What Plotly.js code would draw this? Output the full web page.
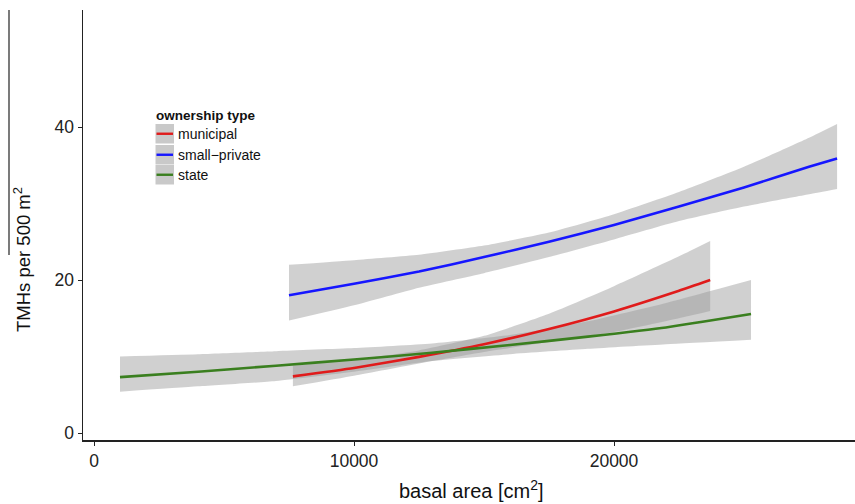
<!DOCTYPE html>
<html>
<head>
<meta charset="utf-8">
<script src="https://cdn.plot.ly/plotly-3.0.1.min.js"></script>
<style>html,body{margin:0;padding:0;background:#fff;}#chart{width:855px;height:504px;}</style>
</head>
<body>
<div id="chart"></div>
<script>
// ---- data ----
const municipalX     = [7650, 10000, 12500, 15000, 17500, 20000, 22500, 23700];
const municipalFit   = [7.4, 8.5, 9.95, 11.6, 13.6, 15.9, 18.6, 20.0];
const municipalUpper = [8.8, 9.6, 10.8, 12.7, 15.6, 19.2, 23.1, 25.1];
const municipalLower = [6.1, 7.5, 9.1, 10.6, 11.9, 13.2, 15.0, 15.95];

const privateX     = [7500, 10000, 12500, 15000, 17500, 20000, 22500, 25000, 27500, 28580];
const privateFit   = [18.0, 19.5, 21.1, 23.0, 25.0, 27.2, 29.6, 32.1, 34.8, 35.9];
const privateUpper = [22.0, 22.6, 23.3, 24.5, 26.2, 28.6, 31.5, 34.8, 38.6, 40.4];
const privateLower = [14.7, 16.7, 19.0, 20.9, 23.0, 25.3, 27.7, 29.6, 31.2, 31.9];

const stateX     = [1000, 4000, 7000, 10000, 13000, 16000, 19000, 22000, 25270];
const stateFit   = [7.3, 8.0, 8.8, 9.6, 10.5, 11.5, 12.6, 13.8, 15.55];
const stateUpper = [10.0, 10.3, 10.7, 11.1, 11.7, 12.8, 14.6, 17.0, 20.0];
const stateLower = [5.4, 6.1, 6.8, 8.0, 9.4, 10.3, 11.0, 11.6, 12.2];

const seriesNames  = ["municipal", "small\u2212private", "state"];
const seriesColors = ["#e01b1b", "#1616ff", "#3a7f1f"];
const xTicks = [0, 10000, 20000];
const yTicks = [0, 20, 40];

// ---- layout geometry (pixels) ----
const W = 855, H = 504, ML = 83, MR = 0, MT = 10, MB = 64;
const pw = W - ML - MR, ph = H - MT - MB;
const px = x => (x - ML) / pw;
const py = y => 1 - (y - MT) / ph;
const FONT = "Liberation Sans, Arial, sans-serif";

const band = "rgba(153,153,153,0.46)";
const groups = [
  [municipalX, municipalFit, municipalUpper, municipalLower],
  [privateX, privateFit, privateUpper, privateLower],
  [stateX, stateFit, stateUpper, stateLower]
];

const traces = [];
groups.forEach(g => {
  traces.push({x: g[0], y: g[3], type: "scatter", mode: "lines", line: {width: 0, shape: "spline", smoothing: 0.5}, showlegend: false, hoverinfo: "skip"});
  traces.push({x: g[0], y: g[2], type: "scatter", mode: "lines", line: {width: 0, shape: "spline", smoothing: 0.5}, fill: "tonexty", fillcolor: band, showlegend: false, hoverinfo: "skip"});
});
groups.forEach((g, i) => {
  traces.push({x: g[0], y: g[1], type: "scatter", mode: "lines", name: seriesNames[i], line: {color: seriesColors[i], width: 2.6, shape: "spline", smoothing: 0.5}, showlegend: false});
});

const shapes = [];
const annotations = [];
// stray vertical rule at far left in the reference
shapes.push({type: "line", xref: "paper", yref: "paper", x0: px(9), x1: px(9), y0: py(10), y1: py(255), line: {color: "#222", width: 1.2}});

// legend
annotations.push({xref: "paper", yref: "paper", x: px(154), y: py(115), xanchor: "left", yanchor: "middle", showarrow: false, text: "<b>ownership type</b>", font: {family: FONT, size: 13.5, color: "#111"}});
const boxTop = [124, 145, 165];
seriesNames.forEach((n, i) => {
  const t = boxTop[i], b = t + 19.5, c = (t + b) / 2;
  shapes.push({type: "rect", xref: "paper", yref: "paper", x0: px(155.5), x1: px(174), y0: py(b), y1: py(t), fillcolor: "#c9c9c9", line: {width: 0}});
  shapes.push({type: "line", xref: "paper", yref: "paper", x0: px(156.5), x1: px(173), y0: py(c), y1: py(c), line: {color: seriesColors[i], width: 2.4}});
  annotations.push({xref: "paper", yref: "paper", x: px(176), y: py(c), xanchor: "left", yanchor: "middle", showarrow: false, text: n, font: {family: FONT, size: 14, color: "#111"}});
});

// axis titles
annotations.push({xref: "paper", yref: "paper", x: px(471), y: py(489), xanchor: "center", yanchor: "middle", showarrow: false, text: "basal area [cm<sup>2</sup>]", font: {family: FONT, size: 20, color: "#111"}});
annotations.push({xref: "paper", yref: "paper", x: px(22), y: py(260), xanchor: "center", yanchor: "middle", textangle: -90, showarrow: false, text: "TMHs per 500 m<sup>2</sup>", font: {family: FONT, size: 18.5, color: "#111"}});

const layout = {
  width: W, height: H,
  margin: {l: ML, r: MR, t: MT, b: MB, pad: 0},
  paper_bgcolor: "#fff", plot_bgcolor: "#fff",
  showlegend: false,
  font: {family: FONT, size: 17, color: "#222"},
  xaxis: {range: [-423, 29269], tickvals: xTicks, ticktext: xTicks.map(String), showgrid: false, zeroline: false,
          showline: true, linecolor: "#222", linewidth: 1.5, ticks: "outside", ticklen: 4, tickcolor: "#222", tickwidth: 1,
          tickfont: {size: 17.5, color: "#222"}},
  yaxis: {range: [-0.915, 55.3], tickvals: yTicks, ticktext: yTicks.map(String), showgrid: false, zeroline: false,
          showline: true, linecolor: "#222", linewidth: 1.5, ticks: "outside", ticklen: 4, tickcolor: "#222", tickwidth: 1,
          tickfont: {size: 17.5, color: "#222"}},
  shapes: shapes,
  annotations: annotations
};

Plotly.newPlot("chart", traces, layout, {staticPlot: true, displayModeBar: false});
</script>
</body>
</html>
